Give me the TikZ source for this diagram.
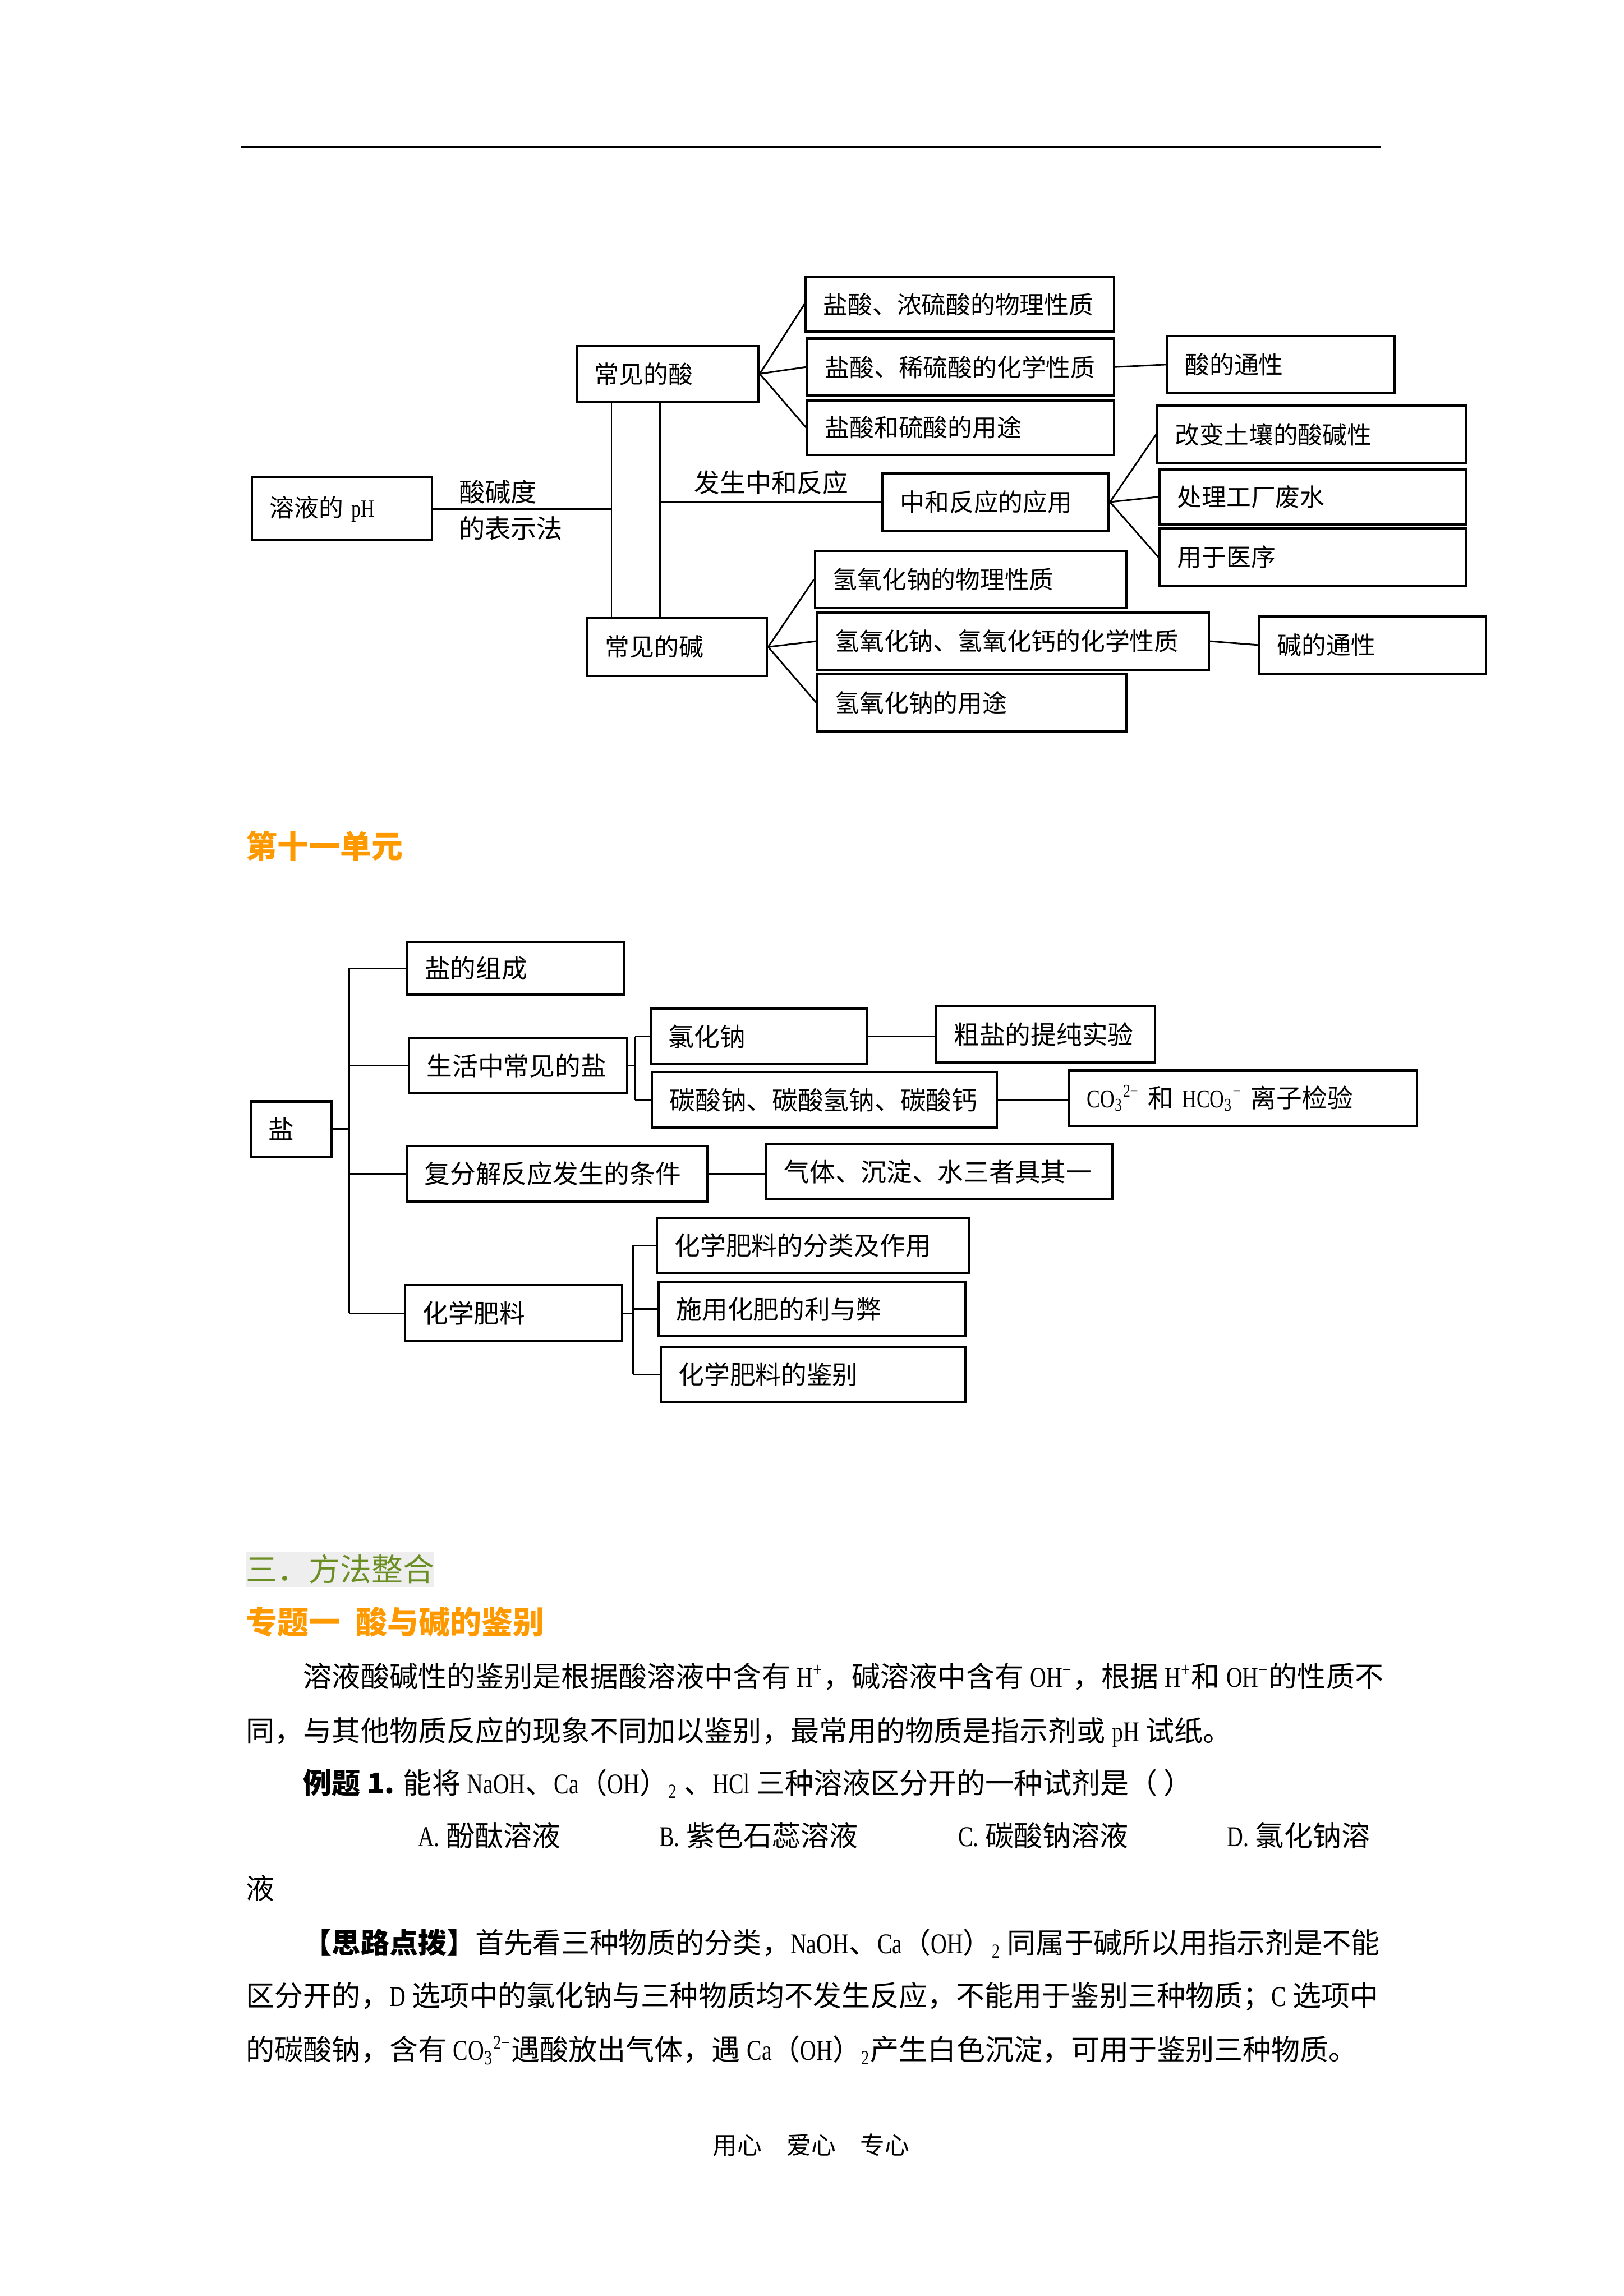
\documentclass[tikz,border=0pt]{standalone}
\usepackage{fontspec}
\setmainfont{Noto Sans CJK SC}
\newfontfamily\enfont{Liberation Serif}[FakeStretch=0.78]
\usetikzlibrary{calc}
\definecolor{unitorange}{HTML}{FF9900}
\definecolor{secgreen}{HTML}{6B8E23}
\definecolor{secgray}{HTML}{EEEEEE}

\begin{document}
\begin{tikzpicture}[x=1pt, y=-1pt,
	box/.style={draw, line width=0.9pt, inner xsep=6.5pt, inner ysep=0pt, align=left, font=\fontsize{9}{11}\selectfont},
	boxb/.style={box, font=\fontsize{9.4}{11}\selectfont},
	link/.style={line width=0.6pt},
	body/.style={anchor=base west, inner sep=0pt, font=\fontsize{10.5}{12}\selectfont}]
		\newcommand{\ionCO}[1]{{\enfont CO\textsubscript{3}\textsuperscript{#1}}}
		\newcommand{\caoh}{{\enfont Ca}（{\enfont OH}）{\enfont\textsubscript{2}}}

		\path[fill=white] (0,0) rectangle (595,841.5);
		\useasboundingbox (0,0) rectangle (595,841.5);

		\draw[line width=0.6pt] (88.4,53.7) -- (506.0,53.7);

		\node (ph) [box, text width=53.0pt, minimum height=23.0pt] at (125.3,186.5) {溶液的 {\enfont pH}};
		\node (phtext) [anchor=west, inner sep=0pt, align=left, font=\fontsize{9.5}{13.4}\selectfont] at (168.0,187.0) {酸碱度\\的表示法};
		\node (acid) [box, text width=53.6pt, minimum height=20.3pt] at (244.7,137.0) {常见的酸};
		\node (base) [box, text width=52.8pt, minimum height=21.2pt] at (248.2,237.1) {常见的碱};
		\node (neut) [box, text width=69.9pt, minimum height=21.0pt] at (364.9,184.0) {中和反应的应用};
		\node (neuttext) [anchor=west, inner sep=0pt, font=\fontsize{9.4}{11}\selectfont] at (254.3,176.8) {发生中和反应};

		\node (aphys) [box, text width=100.1pt, minimum height=19.9pt] at (351.8,111.5) {盐酸、浓硫酸的物理性质};
		\node (achem) [box, text width=99.4pt, minimum height=20.8pt] at (352.1,134.5) {盐酸、稀硫酸的化学性质};
		\node (ause) [box, text width=99.4pt, minimum height=20.1pt] at (352.1,156.7) {盐酸和硫酸的用途};
		\node (agen) [box, text width=70.3pt, minimum height=21.0pt] at (469.5,133.6) {酸的通性};

		\node (soil) [box, text width=100.0pt, minimum height=21.2pt] at (480.7,159.2) {改变土壤的酸碱性};
		\node (water) [box, text width=99.2pt, minimum height=20.3pt] at (481.1,182.1) {处理工厂废水};
		\node (med) [box, text width=99.2pt, minimum height=20.9pt] at (481.1,204.2) {用于医序};

		\node (bphys) [box, text width=101.1pt, minimum height=21.0pt] at (355.8,212.4) {氢氧化钠的物理性质};
		\node (bchem) [box, text width=130.5pt, minimum height=21.0pt] at (371.3,235.0) {氢氧化钠、氢氧化钙的化学性质};
		\node (buse) [box, text width=100.2pt, minimum height=21.2pt] at (356.2,257.5) {氢氧化钠的用途};
		\node (bgen) [box, text width=70.0pt, minimum height=20.9pt] at (503.1,236.4) {碱的通性};

		\coordinate (v1) at (224.1,0);
		\coordinate (v2) at (241.8,0);
		\draw[link] (ph.east) -- (ph.east -| v1);
		\draw[link] (acid.south -| v1) -- (base.north -| v1);
		\draw[link] (acid.south -| v2) -- (base.north -| v2);
		\draw[link] (neut.west -| v2) -- (neut.west);
		\foreach \n in {aphys, achem, ause}
			\draw[link] (acid.east) -- (\n.west);
		\foreach \n in {soil, water, med}
			\draw[link] (neut.east) -- (\n.west);
		\foreach \n in {bphys, bchem, buse}
			\draw[link] (base.east) -- (\n.west);
		\draw[link] (achem.east) -- (agen.west);
		\draw[link] (bchem.east) -- (bgen.west);

		\node (unit) [anchor=west, inner sep=0pt, text=unitorange, font=\bfseries\fontsize{11.5}{13}\selectfont] at (90.0,310.0) {第十一单元};

		\node (salt) [boxb, text width=16.6pt, minimum height=20.3pt] at (106.7,413.8) {盐};
		\node (comp) [boxb, text width=66.5pt, minimum height=19.3pt] at (188.9,354.9) {盐的组成};
		\node (life) [boxb, text width=67.0pt, minimum height=20.3pt] at (189.9,390.6) {生活中常见的盐};
		\node (cond) [boxb, text width=97.2pt, minimum height=20.4pt] at (204.2,430.2) {复分解反应发生的条件};
		\node (fert) [boxb, text width=66.6pt, minimum height=20.6pt] at (188.2,481.3) {化学肥料};
		\node (nacl) [boxb, text width=66.1pt, minimum height=20.3pt] at (278.1,379.9) {氯化钠};
		\node (carb) [boxb, text width=113.4pt, minimum height=20.4pt] at (302.1,403.1) {碳酸钠、碳酸氢钠、碳酸钙};
		\node (crude) [boxb, text width=67.2pt, minimum height=20.6pt] at (383.2,379.1) {粗盐的提纯实验};
		\node (ion) [boxb, text width=114.4pt, minimum height=20.3pt] at (455.6,402.5) {\ionCO{2−} 和 {\enfont HCO\textsubscript{3}\textsuperscript{−}} 离子检验};
		\node (gas) [boxb, text width=113.7pt, minimum height=20.2pt] at (344.2,429.5) {气体、沉淀、水三者具其一};
		\node (fclass) [boxb, text width=101.5pt, minimum height=20.3pt] at (298.0,456.5) {化学肥料的分类及作用};
		\node (fuse) [boxb, text width=99.4pt, minimum height=19.9pt] at (297.6,479.8) {施用化肥的利与弊};
		\node (fid) [boxb, text width=98.6pt, minimum height=20.2pt] at (298.0,503.7) {化学肥料的鉴别};

		\coordinate (trunk) at (127.9,0);
		\coordinate (lifebr) at (232.7,0);
		\coordinate (fertbr) at (232.1,0);
		\draw[link] (salt.east) -- (salt.east -| trunk);
		\draw[link] (comp.west -| trunk) -- (fert.west -| trunk);
		\foreach \n in {comp, life, cond, fert}
			\draw[link] (\n.west -| trunk) -- (\n.west);
		\draw[link] (life.east) -- (life.east -| lifebr);
		\draw[link] (nacl.west -| lifebr) -- (carb.west -| lifebr);
		\foreach \n in {nacl, carb}
			\draw[link] (\n.west -| lifebr) -- (\n.west);
		\draw[link] (fert.east) -- (fert.east -| fertbr);
		\draw[link] (fclass.west -| fertbr) -- (fid.west -| fertbr);
		\foreach \n in {fclass, fuse, fid}
			\draw[link] (\n.west -| fertbr) -- (\n.west);
		\draw[link] (nacl.east) -- (nacl.east -| crude.west);
		\draw[link] (carb.east) -- (carb.east -| ion.west);
		\draw[link] (cond.east) -- (cond.east -| gas.west);

		\node (sec) [anchor=west, fill=secgray, text=secgreen, inner xsep=0pt, inner ysep=0pt, minimum height=12.9pt, font=\fontsize{11.5}{13}\selectfont] at (90.0,575.1) {三．方法整合};
		\node (topic) [anchor=west, inner sep=0pt, text=unitorange, font=\bfseries\fontsize{11.5}{13}\selectfont] at (90.0,594.4) {专题一\hspace{0.5em}酸与碱的鉴别};

		\node (line1) [body] at (111.0,618.3) {溶液酸碱性的鉴别是根据酸溶液中含有 {\enfont H\textsuperscript{+}}，碱溶液中含有 {\enfont OH\textsuperscript{−}}，根据 {\enfont H\textsuperscript{+}}和 {\enfont OH\textsuperscript{−}}的性质不};
		\node (line2) [body] at (90.0,638.3) {同，与其他物质反应的现象不同加以鉴别，最常用的物质是指示剂或 {\enfont pH} 试纸。};
		\node (line3) [body] at (111.0,657.4) {{\bfseries 例题 1.} 能将 {\enfont NaOH}、\caoh\ 、{\enfont HCl} 三种溶液区分开的一种试剂是（ ）};
		\node (optA) [body] at (153.0,676.7) {{\enfont A.} 酚酞溶液};
		\node (optB) [body] at (241.4,676.7) {{\enfont B.} 紫色石蕊溶液};
		\node (optC) [body] at (351.0,676.7) {{\enfont C.} 碳酸钠溶液};
		\node (optD) [body] at (449.6,676.7) {{\enfont D.} 氯化钠溶};
		\node (line5) [body] at (90.0,696.0) {液};
		\node (line6) [body] at (111.0,716.0) {{\bfseries 【思路点拨】}首先看三种物质的分类，{\enfont NaOH}、\caoh\ 同属于碱所以用指示剂是不能};
		\node (line7) [body] at (90.0,735.3) {区分开的，{\enfont D} 选项中的氯化钠与三种物质均不发生反应，不能用于鉴别三种物质；{\enfont C} 选项中};
		\node (line8) [body] at (90.0,755.1) {的碳酸钠，含有 \ionCO{2−}遇酸放出气体，遇 \caoh 产生白色沉淀，可用于鉴别三种物质。};

		\node (footer) [inner sep=0pt, font=\fontsize{9}{11}\selectfont] at (297.3,786.2) {用心　爱心　专心};
\end{tikzpicture}
\end{document}
